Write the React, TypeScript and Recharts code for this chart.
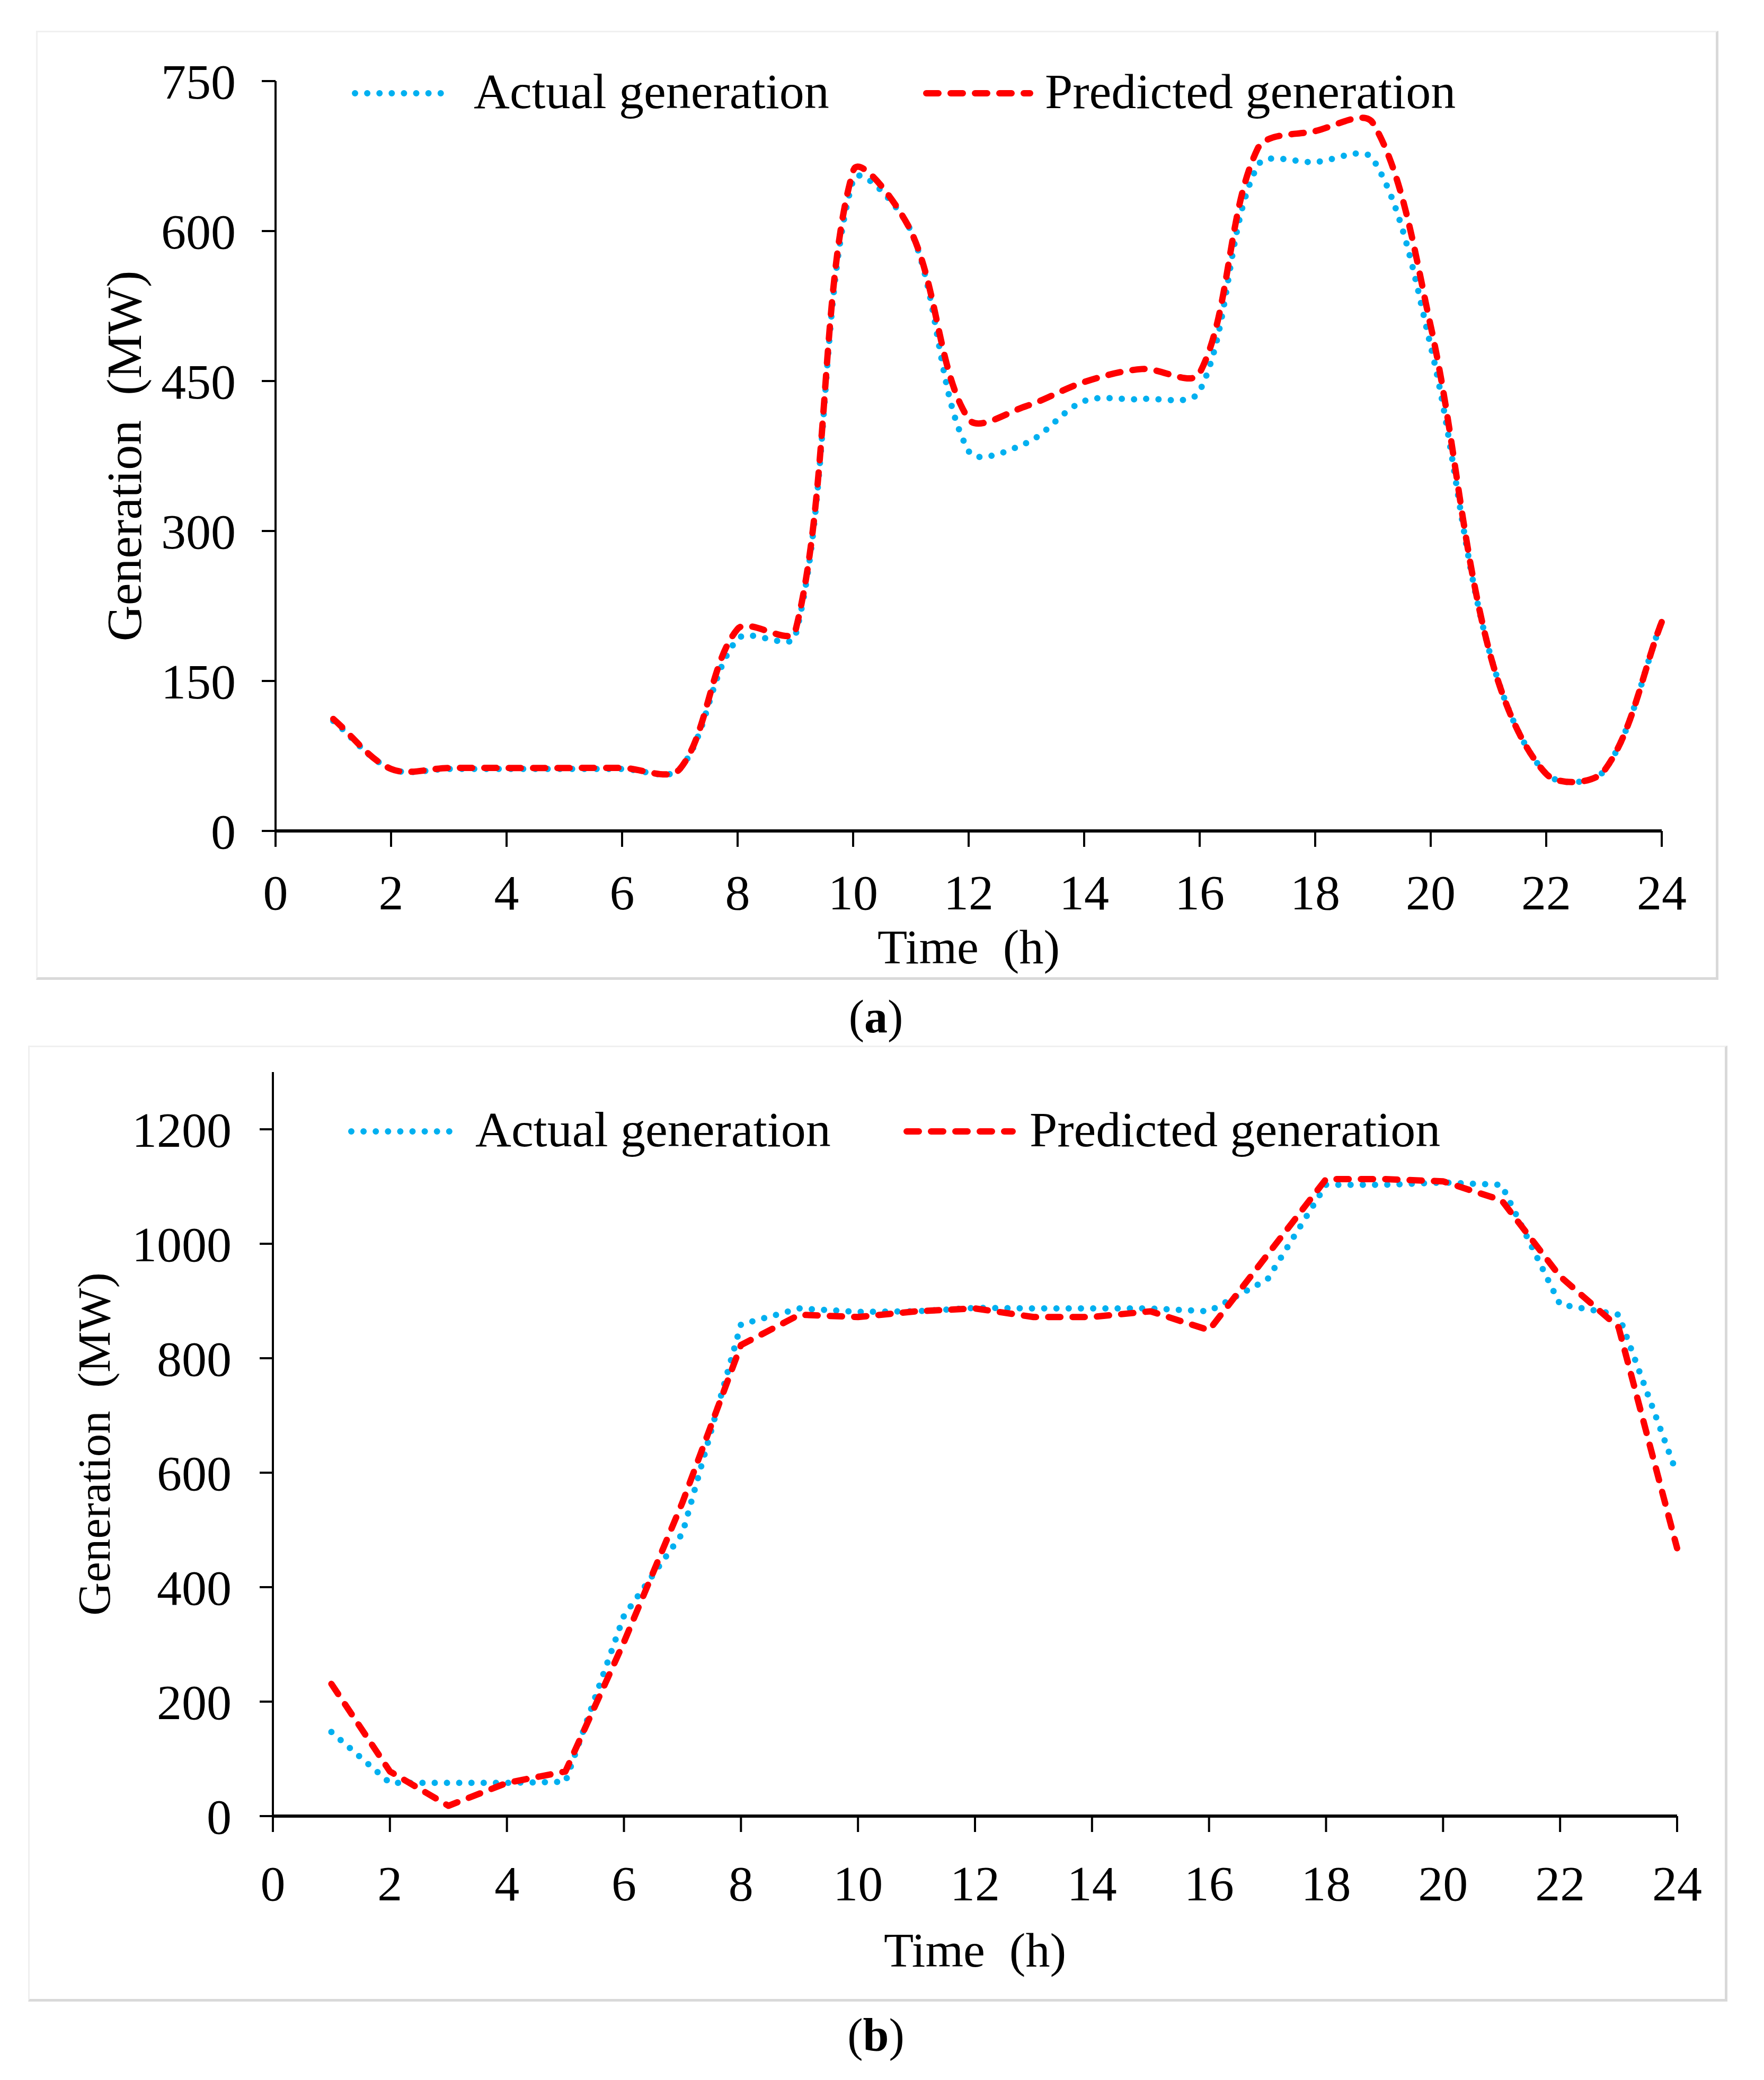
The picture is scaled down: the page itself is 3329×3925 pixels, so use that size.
import { Legend, Line, LineChart, XAxis, YAxis } from "recharts";

const HOURS = [1, 2, 3, 4, 5, 6, 7, 8, 9, 10, 11, 12, 13, 14, 15, 16, 17, 18, 19, 20, 21, 22, 23, 24];
const HOUR_TICKS = [0, 2, 4, 6, 8, 10, 12, 14, 16, 18, 20, 22, 24];

// (a)
const ACTUAL_A = [110, 62, 62, 62, 62, 62, 62, 192, 195, 651, 600, 380, 388, 430, 432, 440, 665, 669, 672, 485, 183, 57, 60, 209];
const PREDICTED_A = [112, 62, 63, 63, 63, 63, 62, 202, 200, 660, 600, 412, 425, 449, 462, 458, 682, 700, 708, 505, 183, 57, 60, 209];
const TICKS_A = [0, 150, 300, 450, 600, 750];

// (b)
const ACTUAL_B = [147, 58, 58, 58, 60, 350, 494, 859, 887, 881, 882, 888, 887, 887, 887, 882, 938, 1103, 1103, 1107, 1103, 894, 876, 597];
const PREDICTED_B = [231, 78, 18, 58, 78, 304, 548, 823, 876, 872, 882, 887, 872, 872, 882, 849, 981, 1113, 1113, 1109, 1076, 943, 854, 468];
const TICKS_B = [0, 200, 400, 600, 800, 1000, 1200];

const FONT = "'Liberation Serif', 'Times New Roman', serif";
const BLUE = "#00B0F0";
const RED = "#FF0000";
const W = 3329;

const rowsA = HOURS.map((h, i) => ({ hour: h, actual: ACTUAL_A[i], predicted: PREDICTED_A[i] }));
const rowsB = HOURS.map((h, i) => ({ hour: h, actual: ACTUAL_B[i], predicted: PREDICTED_B[i] }));

// Excel-like "smoothed line": bezier through the points, tangents scaled by chord length
function excelSmooth(context: any) {
  let pts: number[][] = [];
  const dist = (a: number[], b: number[]) => Math.hypot(b[0] - a[0], b[1] - a[1]);
  return {
    areaStart() {},
    areaEnd() {},
    lineStart() {
      pts = [];
    },
    point(x: number, y: number) {
      pts.push([+x, +y]);
    },
    lineEnd() {
      const n = pts.length;
      if (!n) return;
      context.moveTo(pts[0][0], pts[0][1]);
      for (let i = 0; i < n - 1; i++) {
        const p0 = pts[Math.max(i - 1, 0)];
        const p1 = pts[i];
        const p2 = pts[i + 1];
        const p3 = pts[Math.min(i + 2, n - 1)];
        const d01 = dist(p0, p1);
        const d12 = dist(p1, p2);
        const d23 = dist(p2, p3);
        const s1 = d01 + d12 > 0 ? d12 / (d01 + d12) / 3 : 0;
        const s2 = d12 + d23 > 0 ? d12 / (d12 + d23) / 3 : 0;
        context.bezierCurveTo(
          p1[0] + (p2[0] - p0[0]) * s1,
          p1[1] + (p2[1] - p0[1]) * s1,
          p2[0] - (p3[0] - p1[0]) * s2,
          p2[1] - (p3[1] - p1[1]) * s2,
          p2[0],
          p2[1]
        );
      }
    },
  };
}

const DOTTED = { stroke: BLUE, strokeWidth: 12, strokeDasharray: "0 23.1" };
const DASHED = { stroke: RED, strokeWidth: 12, strokeDasharray: "23 23" };

type LegendGeo = { y: number; sample: number[][]; text: number[] };

function renderLegend(geo: LegendGeo) {
  const styles = [DOTTED, DASHED];
  const labels = ["Actual generation", "Predicted generation"];
  return () => (
    <div style={{ position: "relative", width: W, height: 0 }}>
      {labels.map((label, i) => (
        <div key={label}>
          <svg
            width={geo.sample[i][1] + 12}
            height={24}
            style={{ position: "absolute", left: geo.sample[i][0] - 6, top: geo.y - 12 }}
          >
            <line
              x1={12}
              x2={geo.sample[i][1]}
              y1={12}
              y2={12}
              stroke={styles[i].stroke}
              strokeWidth={styles[i].strokeWidth}
              strokeDasharray={styles[i].strokeDasharray}
              strokeLinecap="round"
            />
          </svg>
          <span
            style={{
              position: "absolute",
              left: geo.text[i],
              top: geo.y - 54,
              fontFamily: FONT,
              fontSize: 94,
              lineHeight: "100px",
              whiteSpace: "nowrap",
              color: "#000",
            }}
          >
            {label}
          </span>
        </div>
      ))}
    </div>
  );
}

type PanelProps = {
  rows: { hour: number; actual: number; predicted: number }[];
  ticks: number[];
  yMax: number;
  smooth: boolean;
  margin: { top: number; right: number; bottom: number; left: number };
  yWidth: number;
  xHeight: number;
  yTickSize: number;
  yTickMargin: number;
  xTickMargin: number;
  xLabelOffset: number;
  yLabelOffset: number;
  yLabelSize: number;
  legend: LegendGeo;
};

function Panel(p: PanelProps) {
  const tick = { fill: "#000", fontSize: 94, fontFamily: FONT };
  const curve = p.smooth ? excelSmooth : "linear";
  return (
    <LineChart width={W} height={1900} data={p.rows} margin={p.margin}>
      <XAxis
        dataKey="hour"
        type="number"
        domain={[0, 24]}
        ticks={HOUR_TICKS}
        height={p.xHeight}
        tickSize={30}
        tickMargin={p.xTickMargin}
        tick={tick}
        axisLine={{ stroke: "#000", strokeWidth: 6 }}
        tickLine={{ stroke: "#000", strokeWidth: 4 }}
        label={{
          value: "Time\u00A0 (h)",
          position: "insideBottom",
          offset: p.xLabelOffset,
          fill: "#000",
          fontSize: 92,
          fontFamily: FONT,
        }}
      />
      <YAxis
        type="number"
        domain={[0, p.yMax]}
        ticks={p.ticks}
        width={p.yWidth}
        tickSize={p.yTickSize}
        tickMargin={p.yTickMargin}
        tick={tick}
        axisLine={{ stroke: "#000", strokeWidth: 4 }}
        tickLine={{ stroke: "#000", strokeWidth: 4 }}
        label={{
          value: "Generation\u00A0 (MW)",
          angle: -90,
          position: "insideLeft",
          offset: p.yLabelOffset,
          fill: "#000",
          fontSize: p.yLabelSize,
          fontFamily: FONT,
          style: { textAnchor: "middle" },
        }}
      />
      <Legend
        layout="vertical"
        align="center"
        verticalAlign="middle"
        wrapperStyle={{ left: 0, top: 0, width: W, height: 0 }}
        content={renderLegend(p.legend)}
      />
      <Line
        type={curve as any}
        dataKey="actual"
        name="Actual generation"
        {...DOTTED}
        strokeLinecap="round"
        strokeLinejoin="round"
        dot={false}
        activeDot={false}
        isAnimationActive={false}
      />
      <Line
        type={curve as any}
        dataKey="predicted"
        name="Predicted generation"
        {...DASHED}
        strokeLinecap="round"
        strokeLinejoin="round"
        dot={false}
        activeDot={false}
        isAnimationActive={false}
      />
    </LineChart>
  );
}

function Frame({ left, top, right, bottom }: { left: number; top: number; right: number; bottom: number }) {
  return (
    <div
      style={{
        position: "absolute",
        left,
        top,
        width: right - left,
        height: bottom - top,
        boxSizing: "border-box",
        borderTop: "3px solid #f0f0f0",
        borderLeft: "3px solid #f0f0f0",
        borderRight: "5px solid #d9d9d9",
        borderBottom: "5px solid #d9d9d9",
      }}
    />
  );
}

function Caption({ top, letter }: { top: number; letter: string }) {
  return (
    <div
      style={{
        position: "absolute",
        left: 0,
        top,
        width: 3306,
        textAlign: "center",
        fontFamily: FONT,
        fontSize: 88,
        lineHeight: "100px",
        color: "#000",
      }}
    >
      (<b>{letter}</b>)
    </div>
  );
}

export default function App() {
  return (
    <div style={{ position: "absolute", left: 0, top: 0, width: W, height: 3925, background: "#fff" }}>
      <Frame left={68} top={58} right={3243} bottom={1849} />
      <Frame left={53} top={1973} right={3260} bottom={3777} />
      <div style={{ position: "absolute", left: 0, top: 0 }}>
        <Panel
          rows={rowsA}
          ticks={TICKS_A}
          yMax={750}
          smooth
          margin={{ top: 153, right: 193, bottom: 32, left: 0 }}
          yWidth={520}
          xHeight={300}
          yTickSize={26}
          yTickMargin={49}
          xTickMargin={51}
          xLabelOffset={50}
          yLabelOffset={233}
          yLabelSize={94}
          legend={{ y: 176, sample: [[664, 192], [1742, 208]], text: [894, 1972] }}
        />
      </div>
      <div style={{ position: "absolute", left: 0, top: 1950 }}>
        <Panel
          rows={rowsB}
          ticks={TICKS_B}
          yMax={1300}
          smooth={false}
          margin={{ top: 73, right: 164, bottom: 43, left: 0 }}
          yWidth={515}
          xHeight={380}
          yTickSize={25}
          yTickMargin={53}
          xTickMargin={62}
          xLabelOffset={96}
          yLabelOffset={176}
          yLabelSize={87}
          legend={{ y: 185, sample: [[657, 210], [1705, 212]], text: [897, 1943] }}
        />
      </div>
      <Caption top={1869} letter="a" />
      <Caption top={3791} letter="b" />
    </div>
  );
}
